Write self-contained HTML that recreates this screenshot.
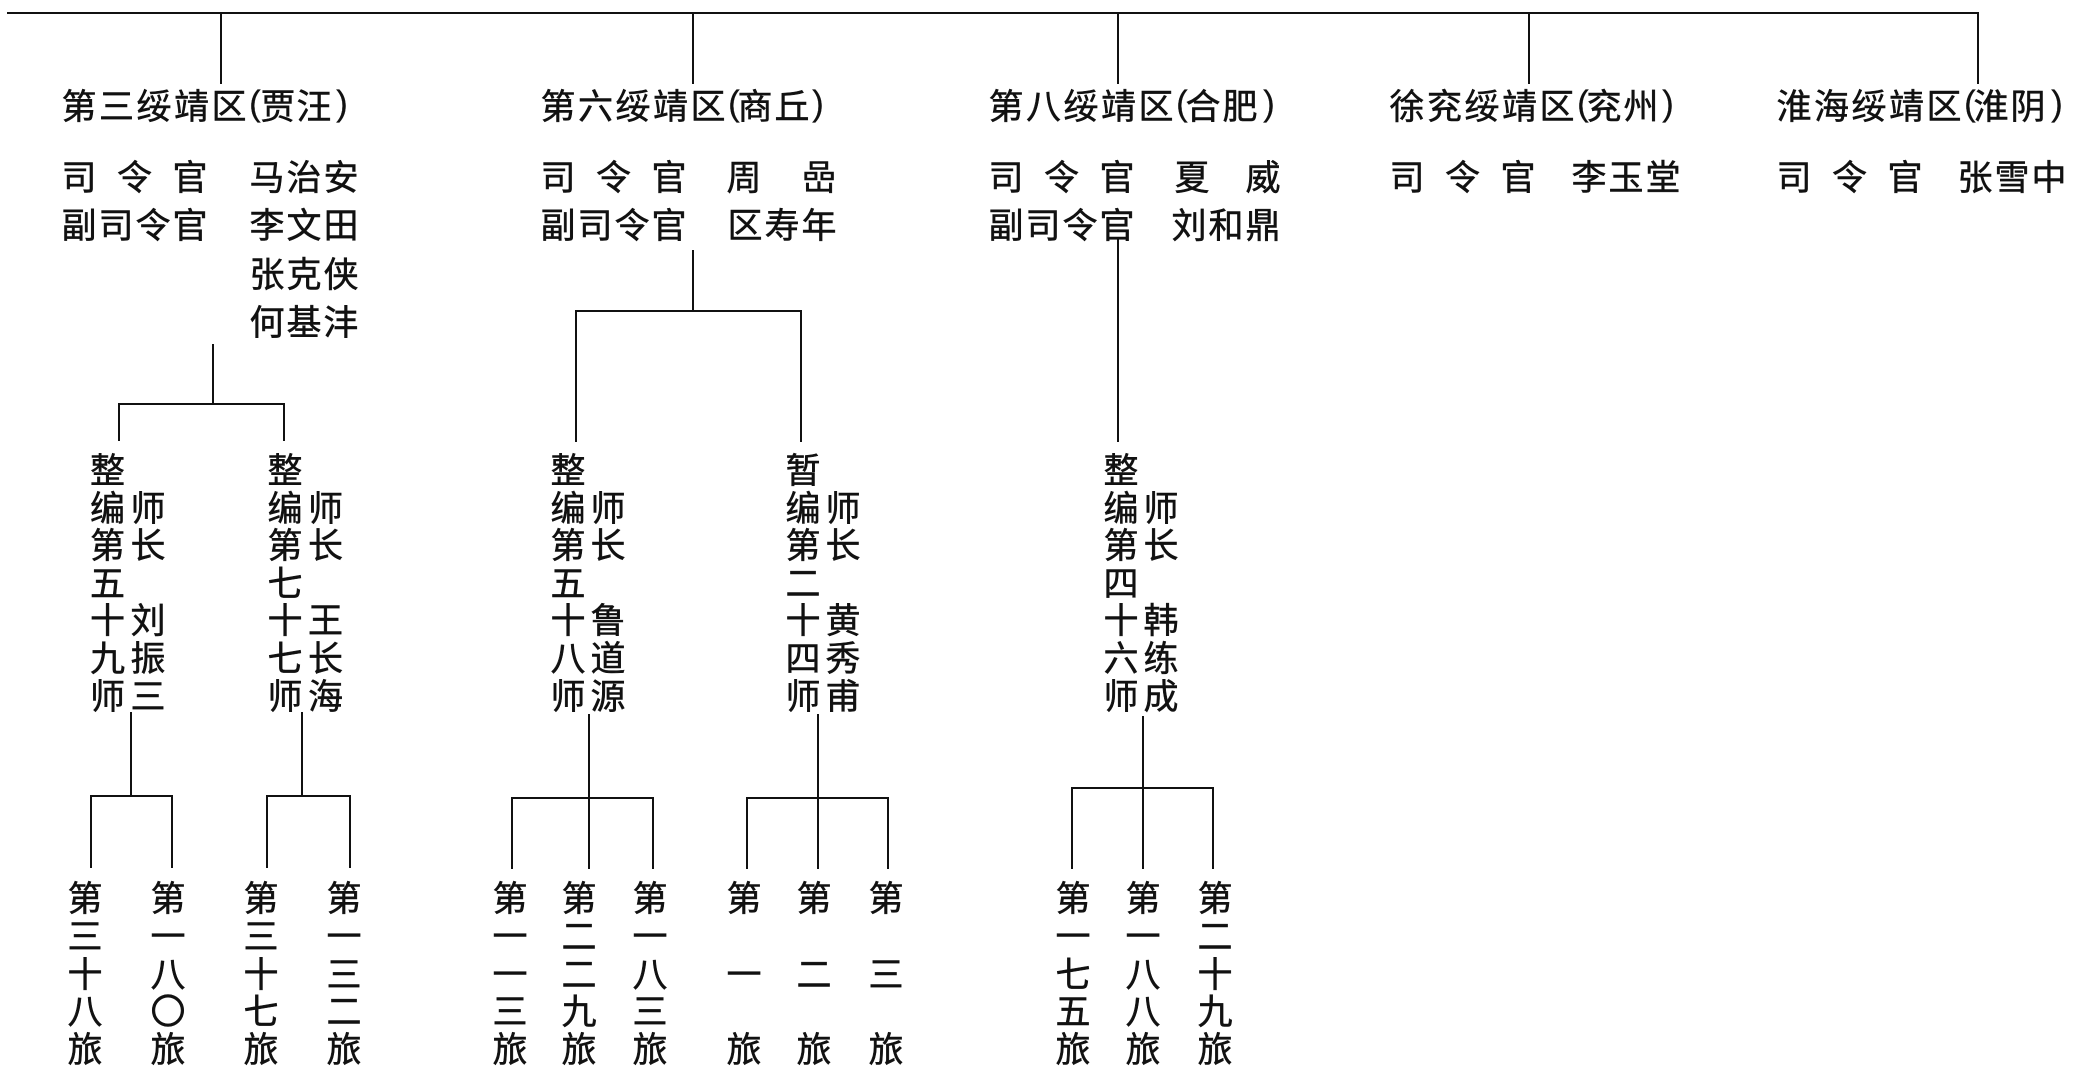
<!DOCTYPE html>
<html>
<head>
<meta charset="utf-8">
<style>
html,body{margin:0;padding:0;background:#fff;}
#c{position:relative;width:2080px;height:1075px;overflow:hidden;background:#fff;font-family:"Liberation Sans","Noto Sans CJK SC",sans-serif;font-size:35px;color:#111;-webkit-text-stroke:0.5px #111;}
.g{position:absolute;width:40px;text-align:center;line-height:37.6px;white-space:nowrap;}
.b{position:absolute;top:0;width:400px;height:400px;}
svg{position:absolute;left:0;top:0;}
.t{top:89.4px}.p{top:85.4px;-webkit-text-stroke:0.2px #111;}
.r1{top:160.4px}.r2{top:208.4px}.r3{top:257.4px}.r4{top:305.4px}
.dv{top:453px}.bg{top:881.4px}
</style>
</head>
<body>
<div id="c">
<svg width="2080" height="1075" viewBox="0 0 2080 1075">
<path fill="none" stroke="#111" stroke-width="2" stroke-linecap="square" d="
M8 13 L1978 13
M221 13 L221 83 M693 13 L693 83 M1118 13 L1118 83 M1529 13 L1529 83 M1978 13 L1978 83
M213 345 L213 404 M119 404 L284 404 M119 404 L119 440 M284 404 L284 440
M131 713 L131 796 M91 796 L172 796 M91 796 L91 867 M172 796 L172 867
M302 713 L302 796 M267 796 L350 796 M267 796 L267 867 M350 796 L350 867
M693 251 L693 311 M576 311 L801 311 M576 311 L576 441 M801 311 L801 441
M589 715 L589 868 M512 798 L653 798 M512 798 L512 868 M653 798 L653 868
M818 715 L818 868 M747 798 L888 798 M747 798 L747 868 M888 798 L888 868
M1118 240 L1118 441
M1143 717 L1143 868 M1072 788 L1213 788 M1072 788 L1072 868 M1213 788 L1213 868
"/>
</svg>

<!-- Block 1 -->
<div class="b" style="left:63px">
<div class="g t" style="left:-4px">第</div><div class="g t" style="left:33.5px">三</div><div class="g t" style="left:71px">绥</div><div class="g t" style="left:108.5px">靖</div><div class="g t" style="left:146px">区</div><div class="g p" style="left:172px">(</div><div class="g t" style="left:195px">贾</div><div class="g t" style="left:231px">汪</div><div class="g p" style="left:259px">)</div>
<div class="g r1" style="left:-4px">司</div><div class="g r1" style="left:51.5px">令</div><div class="g r1" style="left:107px">官</div>
<div class="g r2" style="left:-4px">副</div><div class="g r2" style="left:33px">司</div><div class="g r2" style="left:70px">令</div><div class="g r2" style="left:107px">官</div>
<div class="g r1" style="left:184px">马</div><div class="g r1" style="left:221px">治</div><div class="g r1" style="left:258px">安</div>
<div class="g r2" style="left:184px">李</div><div class="g r2" style="left:221px">文</div><div class="g r2" style="left:258px">田</div>
<div class="g r3" style="left:184px">张</div><div class="g r3" style="left:221px">克</div><div class="g r3" style="left:258px">侠</div>
<div class="g r4" style="left:184px">何</div><div class="g r4" style="left:221px">基</div><div class="g r4" style="left:258px">沣</div>
</div>

<!-- Block 2 -->
<div class="b" style="left:542px">
<div class="g t" style="left:-4px">第</div><div class="g t" style="left:33.5px">六</div><div class="g t" style="left:71px">绥</div><div class="g t" style="left:108.5px">靖</div><div class="g t" style="left:146px">区</div><div class="g p" style="left:172px">(</div><div class="g t" style="left:193px">商</div><div class="g t" style="left:230px">丘</div><div class="g p" style="left:256px">)</div>
<div class="g r1" style="left:-4px">司</div><div class="g r1" style="left:51.5px">令</div><div class="g r1" style="left:107px">官</div>
<div class="g r2" style="left:-4px">副</div><div class="g r2" style="left:33px">司</div><div class="g r2" style="left:70px">令</div><div class="g r2" style="left:107px">官</div>
<div class="g r1" style="left:182px">周</div><div class="g r1" style="left:257px">嵒</div>
<div class="g r2" style="left:183px">区</div><div class="g r2" style="left:220px">寿</div><div class="g r2" style="left:257px">年</div>
</div>

<!-- Block 3 -->
<div class="b" style="left:990px">
<div class="g t" style="left:-4px">第</div><div class="g t" style="left:33.5px">八</div><div class="g t" style="left:71px">绥</div><div class="g t" style="left:108.5px">靖</div><div class="g t" style="left:146px">区</div><div class="g p" style="left:172px">(</div><div class="g t" style="left:193px">合</div><div class="g t" style="left:230px">肥</div><div class="g p" style="left:259px">)</div>
<div class="g r1" style="left:-4px">司</div><div class="g r1" style="left:51.5px">令</div><div class="g r1" style="left:107px">官</div>
<div class="g r2" style="left:-4px">副</div><div class="g r2" style="left:33px">司</div><div class="g r2" style="left:70px">令</div><div class="g r2" style="left:107px">官</div>
<div class="g r1" style="left:182px">夏</div><div class="g r1" style="left:253px">威</div>
<div class="g r2" style="left:179px">刘</div><div class="g r2" style="left:216px">和</div><div class="g r2" style="left:253px">鼎</div>
</div>

<!-- Block 4 -->
<div class="b" style="left:1391px">
<div class="g t" style="left:-4px">徐</div><div class="g t" style="left:33.5px">兖</div><div class="g t" style="left:71px">绥</div><div class="g t" style="left:108.5px">靖</div><div class="g t" style="left:146px">区</div><div class="g p" style="left:172px">(</div><div class="g t" style="left:193px">兖</div><div class="g t" style="left:230px">州</div><div class="g p" style="left:257px">)</div>
<div class="g r1" style="left:-4px">司</div><div class="g r1" style="left:51.5px">令</div><div class="g r1" style="left:107px">官</div>
<div class="g r1" style="left:178px">李</div><div class="g r1" style="left:215px">玉</div><div class="g r1" style="left:252px">堂</div>
</div>

<!-- Block 5 -->
<div class="b" style="left:1778px">
<div class="g t" style="left:-4px">淮</div><div class="g t" style="left:33.5px">海</div><div class="g t" style="left:71px">绥</div><div class="g t" style="left:108.5px">靖</div><div class="g t" style="left:146px">区</div><div class="g p" style="left:172px">(</div><div class="g t" style="left:193px">淮</div><div class="g t" style="left:230px">阴</div><div class="g p" style="left:259px">)</div>
<div class="g r1" style="left:-4px">司</div><div class="g r1" style="left:51.5px">令</div><div class="g r1" style="left:107px">官</div>
<div class="g r1" style="left:177px">张</div><div class="g r1" style="left:214px">雪</div><div class="g r1" style="left:251px">中</div>
</div>

<!-- Divisions -->
<div class="g dv" style="left:87.5px">整<br>编<br>第<br>五<br>十<br>九<br>师</div>
<div class="g dv" style="left:128px"><br>师<br>长<br><br>刘<br>振<br>三</div>
<div class="g dv" style="left:265px">整<br>编<br>第<br>七<br>十<br>七<br>师</div>
<div class="g dv" style="left:305.5px"><br>师<br>长<br><br>王<br>长<br>海</div>
<div class="g dv" style="left:548px">整<br>编<br>第<br>五<br>十<br>八<br>师</div>
<div class="g dv" style="left:588px"><br>师<br>长<br><br>鲁<br>道<br>源</div>
<div class="g dv" style="left:783px">暂<br>编<br>第<br>二<br>十<br>四<br>师</div>
<div class="g dv" style="left:823px"><br>师<br>长<br><br>黄<br>秀<br>甫</div>
<div class="g dv" style="left:1101px">整<br>编<br>第<br>四<br>十<br>六<br>师</div>
<div class="g dv" style="left:1141px"><br>师<br>长<br><br>韩<br>练<br>成</div>

<!-- Brigades -->
<div class="g bg" style="left:65px">第<br>三<br>十<br>八<br>旅</div>
<div class="g bg" style="left:148px">第<br>一<br>八<br>〇<br>旅</div>
<div class="g bg" style="left:241px">第<br>三<br>十<br>七<br>旅</div>
<div class="g bg" style="left:324px">第<br>一<br>三<br>二<br>旅</div>
<div class="g bg" style="left:490px">第<br>一<br>一<br>三<br>旅</div>
<div class="g bg" style="left:559px">第<br>二<br>二<br>九<br>旅</div>
<div class="g bg" style="left:630px">第<br>一<br>八<br>三<br>旅</div>
<div class="g bg" style="left:724px">第<br><br>一<br><br>旅</div>
<div class="g bg" style="left:794px">第<br><br>二<br><br>旅</div>
<div class="g bg" style="left:866px">第<br><br>三<br><br>旅</div>
<div class="g bg" style="left:1053px">第<br>一<br>七<br>五<br>旅</div>
<div class="g bg" style="left:1123px">第<br>一<br>八<br>八<br>旅</div>
<div class="g bg" style="left:1195px">第<br>二<br>十<br>九<br>旅</div>
</div>
</body>
</html>
